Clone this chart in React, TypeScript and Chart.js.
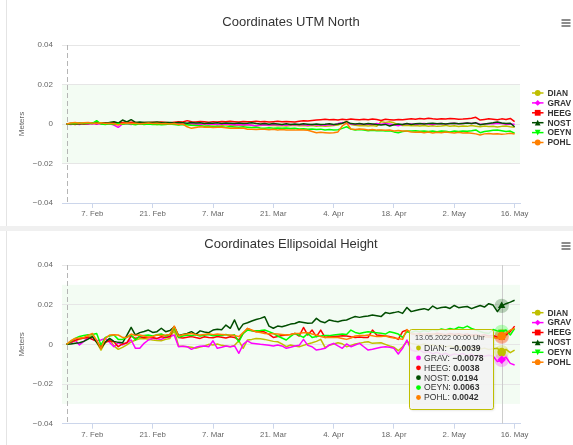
import React, { useEffect, useRef } from 'react';
import { Chart, registerables } from 'chart.js';

Chart.register(...registerables);

const FONT = "'Liberation Sans', Arial, Helvetica, sans-serif";

// ---------- categories / ticks ----------
const FIRST_DATE = '2022-02-01';
const START_LINE_DATE = '2022-02-01';
const HOVER_DATE = '2022-05-13';
const HOVER_LABEL = '13.05.2022 00:00 Uhr';
const X_TICK_DATES = ['2022-02-07', '2022-02-21', '2022-03-07', '2022-03-21', '2022-04-04', '2022-04-18', '2022-05-02', '2022-05-16'];
const X_TICK_LABELS = ['7. Feb', '21. Feb', '7. Mar', '21. Mar', '4. Apr', '18. Apr', '2. May', '16. May'];
const Y_TICKS = [-0.04, -0.02, 0, 0.02, 0.04];
const Y_TICK_LABELS = ['\u22120.04', '\u22120.02', '0', '0.02', '0.04'];
const Y_TITLE = 'Meters';
const STATIONS = ['DIAN', 'GRAV', 'HEEG', 'NOST', 'OEYN', 'POHL'];
const STATION_COLORS = ['#bfbf00', '#ff00ff', '#ff0000', '#004d00', '#00ff00', '#ff8000'];
const STATION_SYMBOLS = ['circle', 'diamond', 'square', 'triangle', 'triangle-down', 'circle'];
const NORTH_BAND = [-0.02, 0.02];
const HEIGHT_BAND = [-0.03, 0.03];

// ---------- Coordinates UTM North (meters, daily from 1 Feb) ----------
const NORTH_DIAN = [
  0, 0.0002, 0.0004, 0.0006, 0.0003, 0.0005, 0.0002, 0.0004, 0.0001, 0.0003,
  0.0002, 0, -0.0003, 0.0002, 0.0004, 0.0001, 0.0003, 0, 0.0002, -0.0001,
  0.0001, -0.0002, 0, 0.0002, -0.0001, 0.0001, -0.0003, 0, -0.0002, -0.0005,
  -0.0003, -0.0006, -0.0004, -0.0002, -0.0005, -0.0003, -0.0007, -0.0004, -0.0006, -0.0008,
  -0.0005, -0.0007, -0.0004, -0.0006, -0.0009, -0.0007, -0.0005, -0.0008, -0.0006, -0.0009,
  -0.0007, -0.001, -0.0008, -0.0006, -0.0009, -0.0007, -0.001, -0.0008, -0.0011, -0.0009,
  -0.0012, -0.001, -0.0008, -0.0005, 0.0004, 0.0012, -0.0002, -0.0006, -0.0009, -0.0007,
  -0.001, -0.0008, -0.0011, 0.0012, 0.0008, 0.0011, 0.0006, -0.0004, -0.0008, -0.0006,
  -0.0009, -0.0007, -0.001, -0.0008, -0.0011, -0.0009, -0.0012, -0.001, -0.0007, -0.0011,
  -0.0009, -0.0013, -0.001, -0.0012, -0.0008, -0.0011, -0.0014, -0.001, -0.0013, -0.0011,
  -0.0015, -0.0012, -0.001, -0.0014, -0.0016,
];
const NORTH_GRAV = [
  0, -0.0003, 0.0001, -0.0002, 0.0002, 0, 0.0003, -0.0001, 0.0002, 0,
  0.0001, -0.0005, -0.0017, 0, 0.0003, -0.0002, 0.0002, 0, 0.0003, 0.0001,
  0.0002, 0, 0.0003, 0.0001, 0, 0.0002, -0.0001, 0.0001, 0, 0.0002,
  0, -0.0002, 0.0001, -0.0001, 0, -0.0003, -0.0001, 0, -0.0002, -0.0004,
  -0.0002, -0.0005, -0.0003, -0.0006, -0.001, -0.0005, -0.0004, -0.0006, -0.0003, -0.0005,
  -0.0004, -0.0006, -0.0003, -0.0005, -0.0002, -0.0004, -0.0006, -0.0003, -0.0005, -0.0004,
  -0.0006, -0.0003, -0.0005, 0.0002, 0.0007, 0.0004, 0, -0.0002, 0.0001, -0.0003,
  0, -0.0002, 0.0002, -0.0001, 0.0003, 0, -0.0004, -0.0009, -0.0002, 0.0001,
  0, -0.0002, 0.0001, 0.0003, 0, -0.0002, 0.0001, 0.0003, 0, 0.0002,
  0.0004, 0.0001, 0.0003, 0.0005, 0.0002, 0.0006, -0.0001, 0, 0.0003, 0.0001,
  0.0004, 0.0002, -0.0001, 0, -0.0001,
];
const NORTH_HEEG = [
  0, 0.0001, -0.0002, 0.0002, 0, 0.0003, 0.0002, 0.0005, 0.0003, 0.0006,
  0.0004, 0.0007, 0.0005, 0.0008, 0.0006, 0.0009, 0.0007, 0.0005, 0.0008, 0.0006,
  0.0009, 0.0007, 0.001, 0.0008, 0.0006, 0.0009, 0.0012, 0.001, 0.0017, 0.0011,
  0.001, 0.0013, 0.0011, 0.0009, 0.0012, 0.001, 0.0013, 0.0011, 0.0014, 0.0012,
  0.001, 0.0013, 0.0011, 0.0012, 0.0014, 0.0011, 0.0013, 0.001, 0.0012, 0.0014,
  0.0011, 0.0013, 0.0012, 0.001, 0.0014, 0.0017, 0.0015, 0.0018, 0.002, 0.0022,
  0.0024, 0.0021, 0.0023, 0.002, 0.0024, 0.0022, 0.0025, 0.0023, 0.0021, 0.0024,
  0.0022, 0.0025, 0.0023, 0.0018, 0.0024, 0.0022, 0.002, 0.0023, 0.0021, 0.0024,
  0.0026, 0.0024, 0.0028, 0.0025, 0.0029, 0.0026, 0.0024, 0.0027, 0.0025, 0.0028,
  0.0026, 0.0024, 0.0025, 0.0027, 0.0029, 0.0034, 0.002, 0.0023, 0.0026, 0.0024,
  0.0022, 0.0026, 0.0023, 0.0028, 0.0012,
];
const NORTH_NOST = [
  0, 0.0002, 0.0003, 0.0001, 0.0004, 0.0003, 0.0005, 0.0002, 0.0006, 0.0004,
  0.0008, 0.0012, 0.0005, 0.002, 0.001, 0.0022, 0.0008, 0.001, 0.0007, 0.0009,
  0.0008, 0.001, 0.0006, 0.0008, 0.0007, 0.0005, 0.0008, 0.0006, 0.0004, 0.0007,
  0.0005, 0.0006, 0.0003, 0.0005, 0.0004, 0.0006, 0.0003, 0.0005, 0.0004, 0.0002,
  0.0005, 0.0003, 0.0004, 0.0006, 0.0002, 0, 0.0003, -0.0001, 0.0002, 0,
  -0.0002, 0.0001, -0.0003, 0, -0.0002, 0.0001, -0.0001, -0.0003, 0, -0.0002,
  -0.0001, 0.0001, -0.0002, 0, 0.0004, 0.0012, 0.0002, 0, 0.0003, -0.0001,
  0.0002, 0, -0.0003, -0.0005, -0.0002, -0.001, -0.0004, 0, -0.0003, 0.0003,
  -0.0002, 0.0001, 0.0003, 0, 0.0002, 0.0004, 0.0001, 0.0003, 0, 0.0002,
  0.0004, 0.0001, 0.0003, 0.0005, 0.0002, 0.0006, -0.0004, 0, 0.0003, 0.0006,
  0.001, 0.0005, 0.0002, 0.0004, -0.0014,
];
const NORTH_OEYN = [
  0, 0.0003, 0.0001, 0.0004, 0.0002, 0.0005, 0.0003, 0.0017, 0, -0.0002,
  0.0001, -0.0003, 0.0002, -0.0001, 0.0003, 0, -0.0004, 0.0001, -0.0002, 0,
  -0.0003, -0.0001, -0.0004, -0.0002, 0, -0.0003, -0.0005, -0.0002, -0.0004, -0.0006,
  -0.0007, -0.0009, -0.0012, -0.001, -0.0014, -0.0012, -0.0014, -0.0016, -0.0013, -0.0015,
  -0.0017, -0.0014, -0.0016, -0.0018, -0.0017, -0.002, -0.0022, -0.0019, -0.0021, -0.002,
  -0.0022, -0.002, -0.0023, -0.0022, -0.0025, -0.0024, -0.0027, -0.0025, -0.0028, -0.0026,
  -0.003, -0.0028, -0.003, -0.0029, -0.0022, -0.0014, -0.0026, -0.003, -0.0028, -0.0031,
  -0.0034, -0.0032, -0.0034, -0.0033, -0.0035, -0.0034, -0.004, -0.0044, -0.0038, -0.0035,
  -0.0036, -0.0034, -0.0037, -0.0035, -0.0038, -0.0036, -0.0039, -0.0035, -0.0037, -0.004,
  -0.0036, -0.0038, -0.0035, -0.0037, -0.0034, -0.003, -0.0044, -0.0038, -0.0035, -0.0032,
  -0.003, -0.0034, -0.0038, -0.0036, -0.0047,
];
const NORTH_POHL = [
  0, 0.0005, 0.0007, 0.0004, 0.0006, 0.0008, 0.0005, 0.0003, 0.0006, 0.0002,
  0.0004, 0.0001, -0.0005, 0.0003, 0.0005, 0.0002, 0.0004, 0.0001, 0.0003, 0.0005,
  0.0002, 0.0004, 0.0001, 0.0003, 0, 0.0002, -0.0002, 0, -0.0014, -0.0022,
  -0.0018, -0.0014, -0.0017, -0.0015, -0.0018, -0.0016, -0.0017, -0.0019, -0.0022, -0.002,
  -0.0022, -0.002, -0.0027, -0.0026, -0.0028, -0.0027, -0.0026, -0.0029, -0.0027, -0.003,
  -0.0028, -0.003, -0.003, -0.0031, -0.0029, -0.003, -0.0032, -0.0038, -0.0044, -0.0042,
  -0.0044, -0.0046, -0.0044, -0.004, -0.001, 0.0005, -0.0025, -0.0028, -0.0025, -0.0027,
  -0.003, -0.0028, -0.0031, -0.003, -0.0032, -0.003, -0.0035, -0.0033, -0.0036, -0.0035,
  -0.004, -0.0042, -0.004, -0.0044, -0.0041, -0.0045, -0.0042, -0.0044, -0.004, -0.0043,
  -0.0045, -0.0042, -0.0046, -0.0044, -0.0047, -0.005, -0.0056, -0.005, -0.0048, -0.0051,
  -0.0049, -0.0052, -0.005, -0.0047, -0.0051,
];

// ---------- Coordinates Ellipsoidal Height (meters, daily from 1 Feb) ----------
const HEIGHT_DIAN = [
  0, 0.001, 0.0018, 0.0025, 0.0032, 0.0038, 0.0042, 0.001, -0.0029, 0.001,
  0.0025, -0.0008, -0.0025, -0.0015, -0.0003, 0.0012, 0.0022, 0.0028, 0.003, 0.0026,
  0.0022, 0.002, 0.0018, 0.0025, 0.003, 0.0072, -0.0008, -0.001, -0.0012, -0.0015,
  -0.002, -0.0014, -0.0008, 0, -0.0003, 0.0002, -0.0005, -0.0008, -0.0012, -0.0005,
  0.0018, -0.002, 0.0022, 0.0025, 0.003, 0.0028, 0.0025, 0.002, 0.0015, 0.0013,
  0.0002, -0.0012, -0.0003, -0.0008, -0.0012, -0.0005, 0.0002, 0.0008, 0.0015, 0.0025,
  -0.0015, -0.0005, 0.0002, 0.0008, 0.0003, -0.0012, -0.0005, 0.0002, 0.0006, 0.001,
  0.0013, 0.0005, 0.0007, 0.0008, 0, -0.0008, -0.0015, -0.0032, -0.0012, 0.0013,
  0.0005, 0, -0.0004, 0.0002, -0.0006, -0.0002, -0.001, -0.0005, -0.0013, -0.0008,
  -0.0016, -0.0011, -0.0018, -0.0014, -0.0022, -0.0016, -0.0024, -0.0019, -0.0026, -0.0022,
  -0.002, -0.0039, -0.0025, -0.0042, -0.0029,
];
const HEIGHT_GRAV = [
  0, 0.0008, 0.0022, -0.0003, 0.0015, 0.0035, 0.0025, 0.0018, 0.0022, 0.003,
  0.001, -0.0012, 0.0008, -0.0003, 0.0008, 0.0022, -0.002, -0.002, 0.0005, 0.0022,
  0.003, 0.0028, 0.0025, 0.0035, 0.004, 0.0047, -0.0012, -0.001, -0.0012, -0.0025,
  -0.0015, -0.001, -0.0008, -0.0012, 0.0018, -0.002, -0.0015, -0.0008, -0.0012, -0.0008,
  -0.0045, 0, 0.0018, 0.0005, 0.0003, 0, -0.0002, -0.0005, -0.0008, -0.0003,
  -0.0008, -0.002, -0.0015, -0.0008, -0.0005, 0.0025, -0.0005, -0.0012, -0.0029, -0.0025,
  -0.002, -0.0003, 0.0005, -0.0008, -0.002, 0.0002, -0.0012, -0.0003, 0.0005, -0.0012,
  -0.0029, -0.0025, -0.002, -0.0015, -0.0012, -0.0015, -0.002, -0.0049, -0.002, 0.0022,
  -0.0029, -0.0035, -0.003, -0.0042, -0.0036, -0.0048, -0.004, -0.0052, -0.0045, -0.0056,
  -0.0048, -0.0053, -0.0046, -0.0058, -0.005, -0.0062, -0.0054, -0.006, -0.0055, -0.0059,
  -0.0087, -0.0078, -0.0065, -0.0096, -0.0104,
];
const HEIGHT_HEEG = [
  0, 0.001, 0.002, 0.0028, 0.0032, 0.0035, 0.0025, 0.0015, -0.0012, 0.001,
  0.0018, 0.0013, -0.0012, 0.0002, 0.0008, 0.0042, 0.003, 0.0038, 0.0033, 0.0036,
  0.0034, 0.003, 0.0038, 0.0035, 0.004, 0.0089, 0.0035, 0.0032, 0.0036, 0.0039,
  0.0034, 0.003, 0.0038, 0.0035, 0.0033, 0.004, 0.0036, 0.0032, 0.0038, 0.0035,
  0.0022, 0.0055, 0.008, 0.007, 0.0064, 0.0066, 0.0062, 0.005, 0.0035, 0.004,
  0.0045, 0.0047, 0.005, 0.0055, 0.0042, 0.0085, 0.0047, 0.0072, 0.0039, 0.0072,
  0.0035, 0.004, 0.0039, 0.0041, 0.0043, 0.0042, 0.0038, 0.0035, 0.0037, 0.0034,
  0.0035, 0.0072, 0.0047, 0.0045, 0.0042, 0.0039, 0.0035, 0.0025, 0.0064, 0.0072,
  0.0055, 0.005, 0.0054, 0.0048, 0.0053, 0.005, 0.0056, 0.0052, 0.0048, 0.0055,
  0.005, 0.0054, 0.0049, 0.0052, 0.0046, 0.005, 0.0044, 0.0048, 0.0042, 0.0045,
  0.0036, 0.0038, 0.0047, 0.0064, 0.0092,
];
const HEIGHT_NOST = [
  0, 0.0002, 0.0005, 0.0008, 0.0015, 0.0026, 0.0039, 0.001, -0.002, 0.0012,
  0.003, 0.0015, 0.001, 0.0008, 0.0045, 0.0086, 0.0047, 0.0059, 0.0065, 0.0072,
  0.006, 0.0064, 0.0081, 0.0064, 0.007, 0.0089, 0.0045, 0.005, 0.0055, 0.0064,
  0.005, 0.0068, 0.0062, 0.0059, 0.0072, 0.0076, 0.0074, 0.0097, 0.0081, 0.0123,
  0.0072, 0.0102, 0.0109, 0.0118, 0.0125, 0.0131, 0.0139, 0.0092, 0.0081, 0.0092,
  0.0089, 0.0095, 0.0102, 0.0105, 0.0114, 0.011, 0.0106, 0.0108, 0.0131, 0.0115,
  0.0109, 0.0123, 0.0118, 0.0114, 0.012, 0.0123, 0.0132, 0.014, 0.0136, 0.014,
  0.0143, 0.0148, 0.0144, 0.014, 0.016, 0.0156, 0.016, 0.0165, 0.0156, 0.0186,
  0.0165, 0.0171, 0.0176, 0.018, 0.0173, 0.0193, 0.018, 0.0186, 0.0188, 0.0181,
  0.0196, 0.0185, 0.0188, 0.0191, 0.018, 0.0188, 0.0196, 0.0188, 0.0205, 0.0198,
  0.0165, 0.0194, 0.0205, 0.0213, 0.0222,
];
const HEIGHT_OEYN = [
  0, 0.0015, 0.003, 0.004, 0.0045, 0.0048, 0.005, 0.0055, -0.0003, 0.0035,
  0.0042, 0.0047, 0.0025, 0.0025, 0.0035, 0.0047, 0.0022, 0.0042, 0.0045, 0.0047,
  0.0042, 0.0048, 0.0052, 0.0042, 0.005, 0.0084, 0.0035, 0.0042, 0.0047, 0.0044,
  0.0048, 0.0042, 0.0046, 0.005, 0.0043, 0.0047, 0.0045, 0.005, 0.0044, 0.0048,
  0.0013, 0.0055, 0.0072, 0.0068, 0.0069, 0.007, 0.0072, 0.0064, 0.0055, 0.0042,
  0.0032, 0.0022, 0.004, 0.0055, 0.0045, 0.0035, 0.0055, 0.0035, 0.004, 0.0042,
  0.0045, 0.0044, 0.0047, 0.005, 0.0052, 0.005, 0.0072, 0.006, 0.0055, 0.006,
  0.0064, 0.0061, 0.0059, 0.0056, 0.0052, 0.0064, 0.0058, 0.0052, 0.0035, 0.0064,
  0.006, 0.0068, 0.0062, 0.007, 0.0065, 0.0074, 0.0069, 0.0078, 0.0072, 0.008,
  0.0075, 0.0086, 0.0082, 0.0092, 0.008, 0.0072, 0.0065, 0.0058, 0.0055, 0.0075,
  0.0068, 0.0063, 0.0072, 0.0047, 0.008,
];
const HEIGHT_POHL = [
  0, 0.0018, 0.003, 0.0032, 0.0035, 0.0045, 0.0055, 0.002, -0.0022, 0.003,
  0.0047, 0.0048, 0.0047, 0.0035, 0.0035, 0.0052, 0.0045, 0.0047, 0.0042, 0.0035,
  0.004, 0.0047, 0.0045, 0.0047, 0.005, 0.0092, 0.0042, 0.0048, 0.0052, 0.0055,
  0.005, 0.0047, 0.005, 0.0053, 0.0049, 0.0052, 0.005, 0.0048, 0.0047, 0.0045,
  0.0039, 0.006, 0.008, 0.0072, 0.0064, 0.006, 0.0055, 0.0054, 0.0053, 0.0052,
  0.005, 0.0047, 0.005, 0.0055, 0.0056, 0.0058, 0.0059, 0.0052, 0.0047, 0.004,
  0.0035, 0.0036, 0.0035, 0.0034, 0.003, 0.0025, 0.0032, 0.0042, 0.0045, 0.0044,
  0.0047, 0.0043, 0.0039, 0.004, 0.0042, 0.0036, 0.0032, 0.003, 0.0025, 0.0075,
  0.0055, 0.005, 0.0046, 0.0051, 0.0047, 0.0052, 0.0048, 0.005, 0.0045, 0.0049,
  0.0044, 0.0048, 0.0043, 0.0046, 0.004, 0.0045, 0.0041, 0.0038, 0.0036, 0.0034,
  0.003, 0.0042, 0.0055, 0.0072, 0.008,
];

// ---------- helpers ----------
const MS_DAY = 86400000;
const YEAR_START = Date.parse('2022-01-01');
const dayOf = (iso: string) => Math.round((Date.parse(iso) - YEAR_START) / MS_DAY);
const FIRST_DAY = dayOf(FIRST_DATE);
const HOVER_INDEX = dayOf(HOVER_DATE) - FIRST_DAY;

function rgba(hex: string, a: number) {
  const n = parseInt(hex.slice(1), 16);
  return `rgba(${(n >> 16) & 255},${(n >> 8) & 255},${n & 255},${a})`;
}
function fmt(v: number) {
  const s = Math.abs(v).toFixed(4);
  return v < 0 ? '\u2212' + s : s;
}
function drawSymbol(ctx: CanvasRenderingContext2D, kind: string, x: number, y: number, r: number) {
  ctx.beginPath();
  if (kind === 'circle') ctx.arc(x, y, r, 0, Math.PI * 2);
  else if (kind === 'diamond') { ctx.moveTo(x, y - r); ctx.lineTo(x + r, y); ctx.lineTo(x, y + r); ctx.lineTo(x - r, y); }
  else if (kind === 'square') ctx.rect(x - r, y - r, 2 * r, 2 * r);
  else if (kind === 'triangle') { ctx.moveTo(x, y - r); ctx.lineTo(x + r, y + r); ctx.lineTo(x - r, y + r); }
  else if (kind === 'triangle-down') { ctx.moveTo(x - r, y - r); ctx.lineTo(x + r, y - r); ctx.lineTo(x, y + r); }
  ctx.closePath();
  ctx.fill();
}

const POINT_STYLE: Record<string, string> = {
  circle: 'circle', diamond: 'rectRot', square: 'rect', triangle: 'triangle', 'triangle-down': 'triangle',
};

type Panel = {
  title: string; series: number[][]; band: number[]; top: number; height: number;
  padTop: number; xAxisH: number; titleY: number; menuY: number; legendY: number; hover: boolean;
};

const PANELS: Panel[] = [
  {
    title: 'Coordinates UTM North',
    series: [NORTH_DIAN, NORTH_GRAV, NORTH_HEEG, NORTH_NOST, NORTH_OEYN, NORTH_POHL],
    band: NORTH_BAND, top: 0, height: 226, padTop: 45, xAxisH: 23, titleY: 22, menuY: 23, legendY: 93, hover: false,
  },
  {
    title: 'Coordinates Ellipsoidal Height',
    series: [HEIGHT_DIAN, HEIGHT_GRAV, HEIGHT_HEEG, HEIGHT_NOST, HEIGHT_OEYN, HEIGHT_POHL],
    band: HEIGHT_BAND, top: 231, height: 214, padTop: 34, xAxisH: 21.3, titleY: 13, menuY: 15, legendY: 81.7, hover: true,
  },
];

function buildConfig(p: Panel): any {
  const lastDay = FIRST_DAY + p.series[0].length - 1;
  const decor = {
    id: 'decor',
    beforeDraw(chart: any) {
      const { ctx, chartArea: a, scales } = chart;
      const y1 = scales.y.getPixelForValue(p.band[1]);
      const y2 = scales.y.getPixelForValue(p.band[0]);
      ctx.save();
      ctx.fillStyle = '#f3fcf3';
      ctx.fillRect(a.left, y1, a.right - a.left, y2 - y1);
      ctx.restore();
    },
    beforeDatasetsDraw(chart: any) {
      const { ctx, chartArea: a, scales } = chart;
      const sx = Math.round(scales.x.getPixelForValue(dayOf(START_LINE_DATE))) + 0.5;
      ctx.save();
      ctx.strokeStyle = '#b5b5b5';
      ctx.lineWidth = 1;
      ctx.setLineDash([5, 3]);
      ctx.beginPath();
      ctx.moveTo(sx, a.top);
      ctx.lineTo(sx, a.bottom);
      ctx.stroke();
      ctx.setLineDash([]);
      if (p.hover) {
        const hx = Math.round(scales.x.getPixelForValue(dayOf(HOVER_DATE))) + 0.5;
        ctx.strokeStyle = '#cccccc';
        ctx.beginPath();
        ctx.moveTo(hx, a.top);
        ctx.lineTo(hx, a.bottom);
        ctx.stroke();
        p.series.forEach((_, i) => {
          const pt = chart.getDatasetMeta(i).data[HOVER_INDEX];
          ctx.fillStyle = rgba(STATION_COLORS[i], 0.25);
          ctx.beginPath();
          ctx.arc(pt.x, pt.y, 7.2, 0, Math.PI * 2);
          ctx.fill();
        });
      }
      ctx.restore();
    },
    afterDraw(chart: any) {
      const { ctx, chartArea: a } = chart;
      ctx.save();
      // title
      ctx.fillStyle = '#333333';
      ctx.font = `13px ${FONT}`;
      ctx.textAlign = 'center';
      ctx.textBaseline = 'middle';
      ctx.fillText(p.title, (a.left + a.right) / 2, p.titleY);
      // context menu icon
      ctx.strokeStyle = '#666666';
      ctx.lineWidth = 1.5;
      for (let k = -1; k <= 1; k++) {
        ctx.beginPath();
        ctx.moveTo(561.5, p.menuY + k * 3);
        ctx.lineTo(570.5, p.menuY + k * 3);
        ctx.stroke();
      }
      // legend
      ctx.textAlign = 'left';
      ctx.font = `bold 8.4px ${FONT}`;
      STATIONS.forEach((name, i) => {
        const y = p.legendY + i * 9.9;
        ctx.strokeStyle = STATION_COLORS[i];
        ctx.lineWidth = 1.5;
        ctx.beginPath();
        ctx.moveTo(a.right + 12, y);
        ctx.lineTo(a.right + 23.5, y);
        ctx.stroke();
        ctx.fillStyle = STATION_COLORS[i];
        drawSymbol(ctx, STATION_SYMBOLS[i], a.right + 17.7, y, 2.9);
        ctx.fillStyle = '#333333';
        ctx.fillText(name, a.right + 27.5, y + 0.5);
      });
      // tooltip
      if (p.hover) {
        const px = chart.getDatasetMeta(0).data[HOVER_INDEX].x;
        const w = 84, h = 80;
        const bx = Math.round(px - 8.2 - w) + 0.5;
        const by = Math.round(a.top + 63.5) + 0.5;
        ctx.save();
        ctx.shadowColor = 'rgba(0,0,0,0.15)';
        ctx.shadowOffsetX = 1;
        ctx.shadowOffsetY = 1;
        ctx.shadowBlur = 2;
        ctx.beginPath();
        ctx.roundRect(bx, by, w, h, 2.2);
        ctx.fillStyle = 'rgba(247,247,247,0.88)';
        ctx.fill();
        ctx.restore();
        ctx.beginPath();
        ctx.roundRect(bx, by, w, h, 2.2);
        ctx.strokeStyle = STATION_COLORS[0];
        ctx.lineWidth = 1;
        ctx.stroke();
        ctx.fillStyle = '#444444';
        ctx.font = `7.2px ${FONT}`;
        ctx.fillText(HOVER_LABEL, bx + 5.5, by + 8.5);
        STATIONS.forEach((name, i) => {
          const ry = by + 18.5 + i * 9.9;
          ctx.fillStyle = STATION_COLORS[i];
          ctx.beginPath();
          ctx.arc(bx + 9, ry, 2.4, 0, Math.PI * 2);
          ctx.fill();
          const label = name + ': ';
          ctx.fillStyle = '#333333';
          ctx.font = `8.6px ${FONT}`;
          ctx.fillText(label, bx + 14.5, ry + 0.5);
          const lw = ctx.measureText(label).width;
          ctx.font = `bold 8.6px ${FONT}`;
          ctx.fillText(fmt(p.series[i][HOVER_INDEX]), bx + 14.5 + lw, ry + 0.5);
        });
      }
      ctx.restore();
    },
  };

  return {
    type: 'line',
    data: {
      datasets: STATIONS.map((name, i) => ({
        label: name,
        data: p.series[i].map((v, j) => ({ x: FIRST_DAY + j, y: v })),
        borderColor: STATION_COLORS[i],
        backgroundColor: STATION_COLORS[i],
        borderWidth: 1.5,
        borderJoinStyle: 'round',
        tension: 0,
        fill: false,
        pointRadius: p.hover ? (c: any) => (c.dataIndex === HOVER_INDEX ? 4.3 : 0) : 0,
        pointHoverRadius: 0,
        pointBorderWidth: 0,
        pointStyle: POINT_STYLE[STATION_SYMBOLS[i]],
        pointRotation: STATION_SYMBOLS[i] === 'triangle-down' ? 180 : 0,
        order: STATIONS.length - 1 - i,
      })),
    },
    options: {
      animation: false,
      responsive: false,
      maintainAspectRatio: false,
      devicePixelRatio: 1,
      events: [],
      layout: { padding: { top: p.padTop, right: 53, left: 0, bottom: 0 } },
      plugins: {
        legend: { display: false },
        tooltip: { enabled: false },
        title: { display: false },
      },
      scales: {
        x: {
          type: 'linear',
          min: FIRST_DAY - 1.05,
          max: lastDay + 1.25,
          afterBuildTicks: (s: any) => { s.ticks = X_TICK_DATES.map((d) => ({ value: dayOf(d) })); },
          afterFit: (s: any) => { s.height = p.xAxisH; },
          ticks: {
            autoSkip: false, maxRotation: 0, minRotation: 0, padding: 1,
            color: '#666666', font: { family: FONT, size: 7.8 },
            callback: (_v: any, i: number) => X_TICK_LABELS[i],
          },
          grid: { drawOnChartArea: false, drawTicks: true, tickLength: 5, color: '#ccd6eb', tickColor: '#ccd6eb' },
          border: { display: true, color: '#ccd6eb', width: 1 },
        },
        y: {
          type: 'linear',
          min: Y_TICKS[0],
          max: Y_TICKS[Y_TICKS.length - 1],
          afterBuildTicks: (s: any) => { s.ticks = Y_TICKS.map((v) => ({ value: v })); },
          afterFit: (s: any) => { s.width = 62; },
          ticks: {
            padding: 9, color: '#666666', font: { family: FONT, size: 8 },
            callback: (_v: any, i: number) => Y_TICK_LABELS[i],
          },
          grid: { color: '#e6e6e6', drawTicks: false, lineWidth: 1 },
          border: { display: false },
          title: {
            display: true, text: Y_TITLE, color: '#666666',
            font: { family: FONT, size: 8 }, padding: { top: 17, bottom: 0 },
          },
        },
      },
    },
    plugins: [decor],
  };
}

function ChartPanel({ panel }: { panel: Panel }) {
  const ref = useRef<HTMLCanvasElement | null>(null);
  useEffect(() => {
    const chart = new Chart(ref.current as HTMLCanvasElement, buildConfig(panel));
    return () => chart.destroy();
  }, [panel]);
  return (
    <canvas
      ref={ref}
      width={573}
      height={panel.height}
      style={{ position: 'absolute', left: 0, top: panel.top, width: 573, height: panel.height }}
    />
  );
}

export default function App() {
  return (
    <div style={{ position: 'absolute', left: 0, top: 0, width: 573, height: 445, background: '#ffffff', overflow: 'hidden' }}>
      <div style={{ position: 'absolute', left: 6, top: 0, width: 1, height: 445, background: '#e4e4e4' }} />
      <div style={{ position: 'absolute', left: 0, top: 226, width: 573, height: 5, background: '#f0f0f0' }} />
      {PANELS.map((p) => (
        <ChartPanel key={p.title} panel={p} />
      ))}
    </div>
  );
}
